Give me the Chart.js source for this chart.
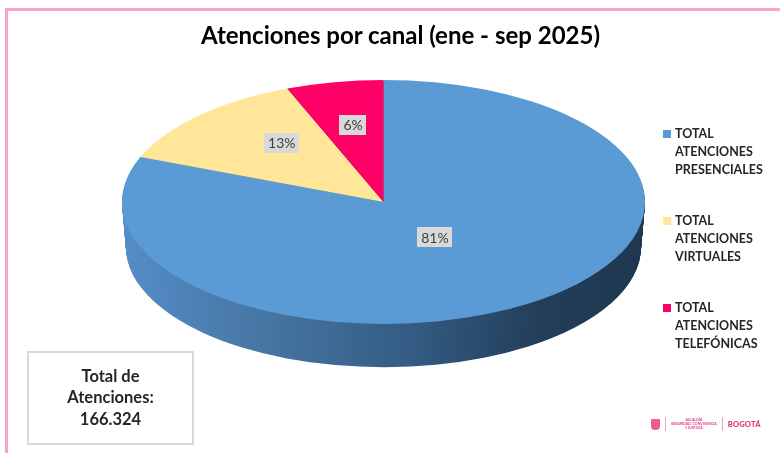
<!DOCTYPE html>
<html lang="es">
<head>
    <meta charset="UTF-8">
    <title>Atenciones por canal (ene - sep 2025)</title>
    <style>
        body { margin: 0; background: #fff; font-family: Lato, "Open Sans", Arial, sans-serif; }
        #wrap { position: relative; width: 780px; height: 453px; overflow: hidden; background: #fff; }
        #frame { position: absolute; left: 5px; top: 8px; width: 800px; height: 460px; border-top: 3px solid #ff9fd0; border-left: 3px solid #ff9fd0; }
        canvas { position: absolute; left: 0; top: 0; }
        #title { position: absolute; left: 0; top: 20px; width: 801px; text-align: center; font-size: 24px; font-weight: bold; color: #000; }
        #legend { position: absolute; left: 663px; top: 0; }
        .legend-item { position: absolute; left: 0; width: 115px; font-size: 12.5px; font-weight: bold; line-height: 18px; color: #262626; }
        .legend-item .box { position: absolute; left: 0; top: 5px; width: 8px; height: 8px; }
        .legend-item .txt { margin-left: 12px; }
        #total { position: absolute; left: 27px; top: 351px; width: 163px; height: 90px; border: 2px solid #d9d9d9;
                 display: flex; align-items: center; justify-content: center; text-align: center;
                 font-size: 16.5px; font-weight: bold; line-height: 21.5px; color: #262626; }
        #logo { position: absolute; left: 651px; top: 415px; height: 18px; display: flex; align-items: center; gap: 5px; color: #e8327c; font-weight: bold; }
        #logo .crest { width: 9px; height: 11px; background: #ef5b95; border-radius: 1px 1px 4px 4px; }
        #logo .sep { width: 1px; height: 14px; background: #f3a0c0; }
        #logo .small { font-size: 3.5px; line-height: 4px; text-align: center; }
        #logo .city { font-size: 7.5px; font-weight: 900; letter-spacing: 0.2px; }
    </style>
</head>
<body>
<div id="wrap">
    <div id="frame"></div>
    <canvas id="pieChart" width="780" height="453"></canvas>
    <div id="title">Atenciones por canal (ene - sep 2025)</div>
    <div id="legend"></div>
    <div id="total">Total de<br>Atenciones:<br>166.324</div>
    <div id="logo">
        <div class="crest"></div>
        <div class="sep"></div>
        <div class="small">ALCALDÍA<br>SEGURIDAD, CONVIVENCIA<br>Y JUSTICIA</div>
        <div class="sep"></div>
        <div class="city">BOGOTÁ</div>
    </div>
</div>

<script src="https://cdn.jsdelivr.net/npm/chart.js"></script>
<script>
    // data
    const channelLabels = ['TOTAL ATENCIONES PRESENCIALES', 'TOTAL ATENCIONES VIRTUALES', 'TOTAL ATENCIONES TELEFÓNICAS'];
    const legendLines = [
        ['TOTAL', 'ATENCIONES', 'PRESENCIALES'],
        ['TOTAL', 'ATENCIONES', 'VIRTUALES'],
        ['TOTAL', 'ATENCIONES', 'TELEFÓNICAS']
    ];
    const channelValues = [134722, 21622, 9980];
    const sliceColors = ['#5b9bd5', '#ffe699', '#ff0066'];

    // 3d look: where the flattened pie sits on the page
    const ELLIPSE = { x: 383.5, y: 202, rx: 261.5, ry: 122 };
    const DEPTH = 45;
    const labelRadius = [0.35, 0.55, 0.62];
    const labelLift = [0, 12, 3];

    const total = channelValues.reduce((a, b) => a + b, 0);

    function project(ctx, arc, dy, shrink) {
        const r = arc.outerRadius;
        ctx.translate(ELLIPSE.x, ELLIPSE.y + dy);
        ctx.scale(ELLIPSE.rx * shrink / r, ELLIPSE.ry * shrink / r);
        ctx.translate(-arc.x, -arc.y);
    }

    const pie3d = {
        id: 'pie3d',
        beforeDatasetsDraw(chart) {
            const ctx = chart.ctx;
            const arcs = chart.getDatasetMeta(0).data;
            const a0 = arcs[0];
            // side wall, drawn as stacked copies of the slices
            const grad = ctx.createLinearGradient(a0.x - a0.outerRadius, 0, a0.x + a0.outerRadius, 0);
            grad.addColorStop(0, '#558dc8');
            grad.addColorStop(0.3, '#44739f');
            grad.addColorStop(0.55, '#345c84');
            grad.addColorStop(0.8, '#233e59');
            grad.addColorStop(1, '#1f3850');
            for (let d = DEPTH; d >= 1; d--) {
                ctx.save();
                project(ctx, a0, d, 1 - 0.015 * d / DEPTH);
                arcs.forEach(arc => {
                    const keep = arc.options;
                    arc.options = Object.assign({}, keep, { backgroundColor: grad });
                    arc.draw(ctx);
                    arc.options = keep;
                });
                ctx.restore();
            }
            // top face
            ctx.save();
            project(ctx, a0, 0, 1);
            arcs.forEach(arc => arc.draw(ctx));
            ctx.restore();
            return false;
        },
        afterDraw(chart) {
            const ctx = chart.ctx;
            const arcs = chart.getDatasetMeta(0).data;
            ctx.save();
            ctx.font = '14px Lato, "Open Sans", sans-serif';
            ctx.textAlign = 'center';
            ctx.textBaseline = 'middle';
            arcs.forEach((arc, i) => {
                const mid = (arc.startAngle + arc.endAngle) / 2;
                const f = labelRadius[i];
                const x = ELLIPSE.x + Math.cos(mid) * ELLIPSE.rx * f;
                const y = ELLIPSE.y + Math.sin(mid) * ELLIPSE.ry * f - labelLift[i];
                const txt = Math.round(channelValues[i] / total * 100) + '%';
                const w = ctx.measureText(txt).width + 8;
                ctx.fillStyle = '#d9d9d9';
                ctx.fillRect(Math.round(x - w / 2), Math.round(y - 10), Math.round(w), 20);
                ctx.fillStyle = '#404040';
                ctx.fillText(txt, x, y + 1);
            });
            ctx.restore();
        }
    };

    const chart = new Chart(document.getElementById('pieChart'), {
        type: 'pie',
        data: {
            labels: channelLabels,
            datasets: [{
                data: channelValues,
                backgroundColor: sliceColors,
                borderWidth: 0,
                hoverOffset: 0
            }]
        },
        options: {
            responsive: false,
            animation: false,
            events: [],
            rotation: 0,
            plugins: {
                legend: { display: false },
                tooltip: { enabled: false }
            }
        },
        plugins: [pie3d]
    });

    // legend built from the chart data
    const legend = document.getElementById('legend');
    const legendTops = [125, 212, 299];
    chart.data.labels.forEach((lbl, i) => {
        const item = document.createElement('div');
        item.className = 'legend-item';
        item.style.top = legendTops[i] + 'px';
        item.innerHTML = '<span class="box" style="background:' + sliceColors[i] + '"></span>' +
            '<div class="txt">' + legendLines[i].join('<br>') + '</div>';
        legend.appendChild(item);
    });
</script>
</body>
</html>
